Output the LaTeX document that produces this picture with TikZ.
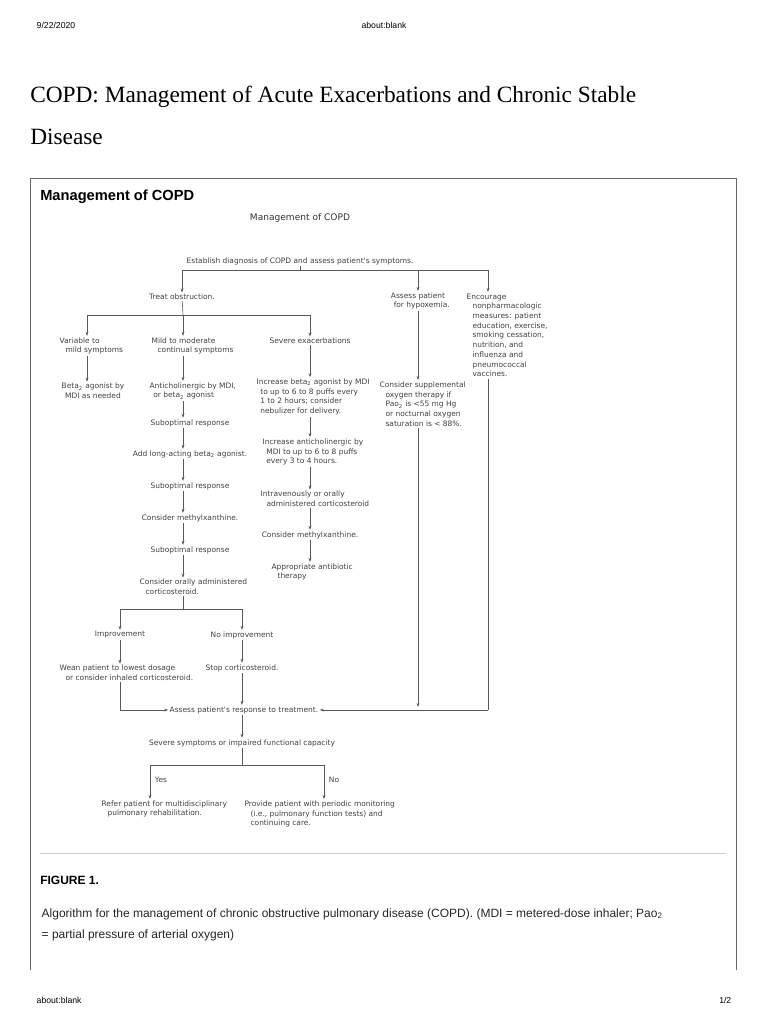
\documentclass[tikz,border=0pt]{standalone}
\usepackage{fontspec}
\setmainfont{Liberation Sans}
\newfontfamily\serifF{Liberation Serif}
\newfontfamily\dgF{DejaVu Sans}
\usetikzlibrary{arrows.meta}
\begin{document}
\begin{tikzpicture}[x=0.75pt,y=-0.75pt,
  t/.style={font=\dgF\fontsize{5.6}{7.3}\selectfont,text=black!75,inner sep=1pt,align=center},
  tl/.style={t,align=left},
  ln/.style={draw=black!65,line width=0.45pt},
  ar/.style={ln,-{Stealth[length=3pt,width=2.2pt]}}]
\useasboundingbox (0,0) rectangle (768,1024);
% page chrome
\node[font=\fontsize{6.5}{8}\selectfont,anchor=west] (date) at (32,25) {9/22/2020};
\node[font=\fontsize{6.5}{8}\selectfont] (ab) at (384,25) {about:blank};
\node[font=\serifF\fontsize{17.5}{20}\selectfont,anchor=west,inner sep=0pt] (t1) at (30,97) {COPD: Management of Acute Exacerbations and Chronic Stable};
\node[font=\serifF\fontsize{17.5}{20}\selectfont,anchor=west,inner sep=0pt] (t2) at (30,137) {Disease};
\draw[black!60,line width=0.6pt] (30,970) -- (30,178) -- (736,178) -- (736,970);
\node[font=\bfseries\fontsize{11}{13}\selectfont,anchor=west,inner sep=0pt] (mh) at (40,197) {Management of COPD};
\draw[black!20,line width=0.6pt] (40,853) -- (726,853);
\node[font=\bfseries\fontsize{9}{10}\selectfont,anchor=west,inner sep=0pt] (fig) at (40,880) {FIGURE 1.};
\node[font=\fontsize{9}{15.5}\selectfont,anchor=north west,align=left,text=black!85] (cap) at (37,904) {Algorithm for the management of chronic obstructive pulmonary disease (COPD). (MDI = metered-dose inhaler; Pao\textsubscript{2}\\= partial pressure of arterial oxygen)};
\node[font=\fontsize{6.5}{8}\selectfont,anchor=west] (f1) at (32,1000) {about:blank};
\node[font=\fontsize{6.5}{8}\selectfont,anchor=east] (f2) at (736,1000) {1/2};
% diagram
\node[font=\dgF\fontsize{6.8}{8}\selectfont,text=black!80] (title) at (300,218) {Management of COPD};
\node[t] (est) at (300,261) {Establish diagnosis of COPD and assess patient's symptoms.};
\node[t] (treat) at (182,297) {Treat obstruction.};
\node[t] (hyp) at (418,301) {Assess patient\\\hspace{1em}for hypoxemia.};
\node[tl,anchor=north west] (enc) at (465,292) {Encourage\\\hspace{0.8em}nonpharmacologic\\\hspace{0.8em}measures: patient\\\hspace{0.8em}education, exercise,\\\hspace{0.8em}smoking cessation,\\\hspace{0.8em}nutrition, and\\\hspace{0.8em}influenza and\\\hspace{0.8em}pneumococcal\\\hspace{0.8em}vaccines.};
\node[tl,anchor=west] (var) at (58,346) {Variable to\\\hspace{0.8em}mild symptoms};
\node[tl,anchor=west] (mild) at (150,346) {Mild to moderate\\\hspace{0.8em}continual symptoms};
\node[t] (sev) at (310,341) {Severe exacerbations};
\node[t] (beta) at (93,391) {Beta\textsubscript{2} agonist by\\MDI as needed};
\node[tl,anchor=west] (anti) at (148,391) {Anticholinergic by MDI,\\\hspace{0.5em}or beta\textsubscript{2} agonist};
\node[tl,anchor=west] (inc) at (255,397) {Increase beta\textsubscript{2} agonist by MDI\\\hspace{0.5em}to up to 6 to 8 puffs every\\\hspace{0.5em}1 to 2 hours; consider\\\hspace{0.5em}nebulizer for delivery.};
\node[tl,anchor=west] (oxy) at (378,404) {Consider supplemental\\\hspace{0.8em}oxygen therapy if\\\hspace{0.8em}Pao\textsubscript{2} is <55 mg Hg\\\hspace{0.8em}or nocturnal oxygen\\\hspace{0.8em}saturation is < 88\%.};
\node[t] (s1) at (190,423) {Suboptimal response};
\node[t] (add) at (190,454) {Add long-acting beta\textsubscript{2} agonist.};
\node[t] (s2) at (190,486) {Suboptimal response};
\node[t] (meth) at (190,518) {Consider methylxanthine.};
\node[t] (s3) at (190,550) {Suboptimal response};
\node[tl,anchor=west] (oral) at (138,587) {Consider orally administered\\\hspace{0.8em}corticosteroid.};
\node[tl,anchor=west] (ianti) at (261,452) {Increase anticholinergic by\\\hspace{0.5em}MDI to up to 6 to 8 puffs\\\hspace{0.5em}every 3 to 4 hours.};
\node[tl,anchor=west] (iv) at (259,499) {Intravenously or orally\\\hspace{0.8em}administered corticosteroid};
\node[t] (meth2) at (310,535) {Consider methylxanthine.};
\node[tl,anchor=west] (abx) at (270,572) {Appropriate antibiotic\\\hspace{0.8em}therapy};
\node[t] (imp) at (120,635) {Improvement};
\node[t] (noimp) at (242,635) {No improvement};
\node[tl,anchor=west] (wean) at (58,673) {Wean patient to lowest dosage\\\hspace{0.8em}or consider inhaled corticosteroid.};
\node[t] (stop) at (242,668) {Stop corticosteroid.};
\node[t] (resp) at (244,710) {Assess patient's response to treatment.};
\node[t] (sevs) at (242,743) {Severe symptoms or impaired functional capacity};
\node[t] (yes) at (161,780) {Yes};
\node[t] (no) at (334,780) {No};
\node[tl,anchor=west] (refer) at (100,809) {Refer patient for multidisciplinary\\\hspace{0.8em}pulmonary rehabilitation.};
\node[tl,anchor=west] (prov) at (243,814) {Provide patient with periodic monitoring\\\hspace{0.8em}(i.e., pulmonary function tests) and\\\hspace{0.8em}continuing care.};
% coordinates
\coordinate (b1) at (300,270);
\coordinate (b2) at (183,315);
\coordinate (b3) at (183,609);
\coordinate (b4) at (242,765);
\coordinate (w1) at (120,710);
\coordinate (e1) at (488,710);
\coordinate (xv) at (87,0);
\coordinate (xm) at (183,0);
\coordinate (xs) at (310,0);
\coordinate (xh) at (418,0);
\coordinate (xe) at (488,0);
\coordinate (xr) at (150,0);
\coordinate (xp) at (324,0);
\coordinate (xn) at (242,0);
\coordinate (hy) at (418,707);
% connectors
\draw[ln] (est) -- (b1);
\draw[ar] (b1) -| (treat);
\draw[ar] (b1) -| (hyp);
\draw[ar] (b1) -| (enc.north -| xe);
\draw[ln] (treat) -- (b2);
\draw[ar] (b2) -| (var.north -| xv);
\draw[ar] (b2) -- (mild.north -| xm);
\draw[ar] (b2) -| (sev);
\draw[ar] (var.south -| xv) -- (beta.north -| xv);
\draw[ar] (mild.south -| xm) -- (anti.north -| xm);
\draw[ar] (anti.south -| xm) -- (s1.north -| xm);
\draw[ar] (s1.south -| xm) -- (add.north -| xm);
\draw[ar] (add.south -| xm) -- (s2.north -| xm);
\draw[ar] (s2.south -| xm) -- (meth.north -| xm);
\draw[ar] (meth.south -| xm) -- (s3.north -| xm);
\draw[ar] (s3.south -| xm) -- (oral.north -| xm);
\draw[ln] (oral.south -| xm) -- (b3);
\draw[ar] (b3) -| (imp);
\draw[ar] (b3) -| (noimp);
\draw[ar] (imp) -- (imp |- wean.north);
\draw[ar] (noimp) -- (stop);
\draw[ln] (wean.south -| w1) -- (w1);
\draw[ar] (w1) -- (resp);
\draw[ar] (stop) -- (resp.north -| xn);
\draw[ar] (sev.south -| xs) -- (inc.north -| xs);
\draw[ar] (inc.south -| xs) -- (ianti.north -| xs);
\draw[ar] (ianti.south -| xs) -- (iv.north -| xs);
\draw[ar] (iv.south -| xs) -- (meth2.north -| xs);
\draw[ar] (meth2.south -| xs) -- (abx.north -| xs);
\draw[ar] (hyp) -- (oxy.north -| xh);
\draw[ar] (oxy.south -| xh) -- (hy);
\draw[ln] (enc.south -| xe) -- (e1);
\draw[ar] (e1) -- (resp);
\draw[ar] (resp.south -| xn) -- (sevs);
\draw[ln] (sevs) -- (b4);
\draw[ar] (b4) -| (refer.north -| xr);
\draw[ar] (b4) -| (prov.north -| xp);
\end{tikzpicture}
\end{document}
